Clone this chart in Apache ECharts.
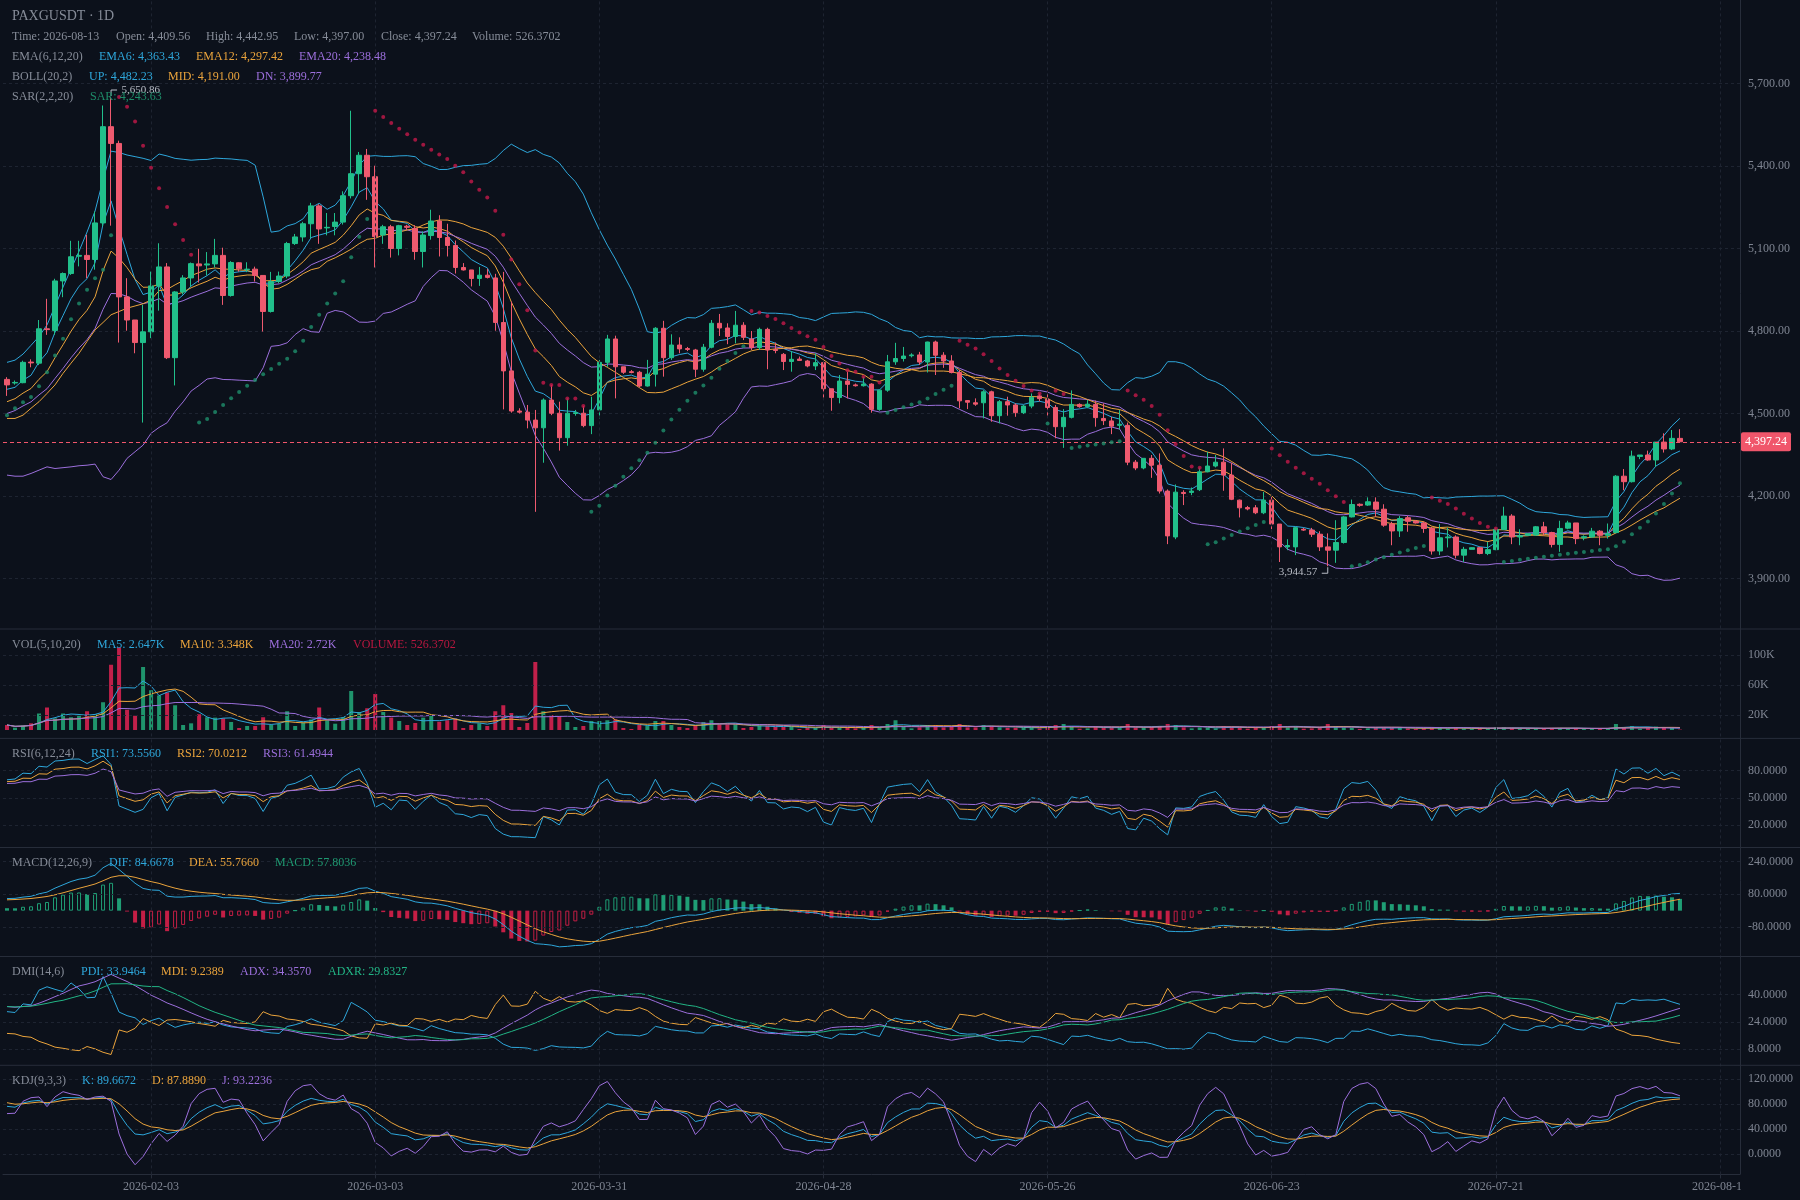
<!DOCTYPE html>
<html>
<head>
<meta charset="utf-8">
<title>PAXGUSDT 1D</title>
<script src="https://cdn.jsdelivr.net/npm/echarts@6.0.0/dist/echarts.min.js"></script>
<style>
html,body{margin:0;padding:0;background:#0c111b;}
#chart{width:1800px;height:1200px;}
</style>
</head>
<body>
<div id="chart"></div>
<script>
// ---------------- data ----------------
const startDay = '2026-01-16';
const futureSlots = 7;
const xLabelDates = ['2026-02-03','2026-03-03','2026-03-31','2026-04-28','2026-05-26','2026-06-23','2026-07-21','2026-08-18'];

const openPrices = [
4624,4611,4612,4687,4683,4808,4802,4982,5009,5072,
5075,5060,5193,5543,5482,4924,4840,4758,4797,4964,
5033,4703,4942,4993,5044,5040,5044,5075,4929,5048,
5023,5025,5002,4871,4980,5000,5118,5142,5190,5255,
5175,5180,5196,5292,5372,5439,5361,5149,5179,5100,
5181,5173,5089,5147,5200,5140,5111,5031,5022,4991,
5003,4993,4831,4655,4509,4505,4476,4448,4549,4501,
4412,4500,4501,4456,4513,4686,4771,4670,4652,4650,
4600,4643,4810,4703,4749,4736,4731,4661,4741,4828,
4811,4780,4821,4771,4740,4806,4733,4715,4689,4698,
4691,4673,4685,4590,4558,4618,4604,4601,4607,4515,
4585,4688,4700,4710,4713,4687,4760,4712,4691,4649,
4547,4539,4539,4579,4492,4543,4531,4503,4527,4564,
4552,4522,4452,4486,4533,4525,4533,4482,4473,4457,
4457,4323,4302,4337,4312,4218,4051,4213,4213,4223,
4288,4309,4323,4276,4185,4158,4157,4139,4185,4098,
4015,4015,4079,4076,4061,4015,4003,4031,4124,4170,
4167,4178,4152,4098,4073,4121,4108,4102,4082,4000,
4048,4051,3985,4006,4012,3991,4005,4078,4127,4051,
4057,4058,4088,4067,4024,4083,4102,4048,4051,4072,
4057,4067,4272,4252,4344,4349,4331,4396,4371,4409.56];

const highPrices = [
4632,4620,4692,4697,4840,4917,4990,5013,5128,5128,
5150,5235,5620,5650.86,5492,4992,4840,4895,5016,5119,
5047,4945,5003,5049,5099,5087,5135,5103,5054,5050,
5050,5034,5002,5015,5016,5124,5153,5197,5266,5261,
5229,5229,5308,5601,5451,5462,5401,5186,5186,5186,
5186,5185,5162,5241,5221,5190,5129,5047,5022,5033,
5026,5008,5015,4907,4519,4531,4513,4555,4604,4543,
4555,4513,4527,4561,4695,4786,4783,4670,4658,4655,
4695,4814,4837,4788,4777,4742,4735,4753,4840,4862,
4828,4873,4832,4800,4812,4812,4758,4720,4727,4707,
4695,4719,4689,4590,4640,4652,4609,4634,4610,4586,
4713,4757,4742,4719,4724,4761,4765,4723,4712,4658,
4549,4555,4585,4583,4549,4561,4537,4531,4573,4572,
4583,4531,4516,4584,4537,4549,4547,4537,4488,4513,
4467,4331,4337,4349,4355,4224,4242,4221,4231,4303,
4361,4349,4373,4321,4187,4164,4167,4215,4197,4098,
4043,4088,4084,4084,4072,4064,4112,4127,4187,4173,
4195,4195,4170,4106,4127,4128,4112,4107,4088,4098,
4085,4057,4015,4013,4015,4033,4082,4161,4134,4079,
4064,4091,4106,4070,4110,4110,4102,4057,4084,4076,
4100,4276,4298,4365,4349,4365,4396,4428,4440,4442.95];

const lowPrices = [
4564,4605,4610,4668,4676,4786,4786,4923,5004,5035,
4992,5023,5180,5183,4758,4801,4719,4467,4774,4874,
4698,4602,4933,4962,4976,5002,5031,4895,4925,5016,
5014,4980,4798,4867,4974,4992,5113,5125,5138,5117,
5148,5148,5187,5282,5299,5277,5031,5117,5067,5075,
5168,5059,5031,5132,5071,5071,5009,5020,4962,4964,
4991,4801,4515,4503,4500,4446,4142.5,4321,4494,4365,
4383,4492,4450,4425,4482,4670,4555,4644,4646,4595,
4598,4598,4634,4695,4719,4727,4632,4652,4737,4782,
4752,4755,4767,4731,4731,4661,4719,4658,4652,4692,
4668,4658,4553,4510,4537,4555,4598,4598,4503,4510,
4579,4677,4689,4704,4677,4649,4640,4666,4646,4519,
4516,4528,4482,4470,4464,4492,4488,4498,4519,4544,
4488,4410,4375,4482,4521,4519,4452,4458,4425,4442,
4312,4294,4297,4266,4209,4025,4043,4167,4203,4218,
4286,4304,4219,4185,4122,4148,4134,4134,4079,3960,
4003,3985,4073,4051,4000,3944.57,3957,4027,4122,4161,
4164,4124,4088,4021,4051,4070,4100,4066,3987,3985,
4013,3973,3960,4006,3988,3985,4003,4076,4025,4021,
4055,4055,4057,4013,3997,4079,4025,4039,4048,4021,
4045,4064,4221,4249,4334,4328,4306,4358,4367,4397.00];

const closePrices = [
4604,4613,4686,4684,4808,4805,4982,5009,5070,5075,
5060,5193,5543,5482,4924,4840,4758,4797,4964,5033,
4703,4942,4993,5045,5037,5044,5075,4929,5049,5026,
5025,5002,4871,4980,5000,5118,5142,5190,5255,5171,
5177,5196,5292,5372,5439,5361,5143,5179,5100,5183,
5177,5089,5149,5200,5140,5111,5031,5022,4991,5003,
4995,4831,4655,4509,4505,4476,4448,4549,4501,4412,
4501,4503,4456,4513,4686,4771,4670,4650,4649,4600,
4643,4810,4703,4749,4735,4733,4661,4741,4828,4811,
4780,4821,4777,4740,4806,4731,4729,4689,4697,4693,
4673,4685,4590,4558,4618,4606,4601,4607,4515,4585,
4688,4700,4709,4713,4687,4760,4712,4691,4649,4546,
4541,4534,4579,4492,4543,4531,4503,4527,4559,4554,
4522,4452,4486,4533,4525,4534,4485,4474,4454,4461,
4323,4302,4337,4312,4218,4055,4214,4209,4218,4288,
4309,4323,4276,4188,4157,4153,4139,4185,4098,4015,
4020,4085,4076,4061,4015,4003,4031,4124,4169,4166,
4179,4152,4094,4073,4118,4108,4102,4082,4000,4048,
4051,3985,4006,4012,3991,4005,4078,4127,4051,4055,
4063,4088,4067,4024,4082,4102,4045,4052,4072,4057,
4063,4272,4252,4345,4349,4331,4396,4371,4409.56,4397.24];

const volumes = [
6700,3100,5800,8900,22000,30000,15500,22000,17000,19000,
25000,21000,37000,87000,110000,27000,19000,84000,53000,46000,
50000,33000,6700,8900,21000,17000,16500,15500,10700,2700,
5300,5300,17000,6700,8000,25000,5300,9800,14000,30000,
13000,8400,17000,52000,24000,29000,48000,24000,16500,12000,
6700,9300,16500,18700,11000,13000,15500,2700,6700,8900,
5300,25000,33000,22700,4000,9300,90700,25000,20000,18700,
10700,4000,5300,12000,12000,13000,14000,2700,1300,6700,
5800,12000,12000,6700,4000,2700,6700,10700,13000,7500,
7500,7500,2700,4000,5800,5800,4000,4000,4000,1300,
2700,2700,6700,3100,2700,2700,2200,3500,6700,3000,
8000,13000,4400,2200,3500,6700,6700,3500,4400,8000,
3500,3500,6700,4400,3500,3100,3100,2700,3500,2200,
4400,6700,8000,4400,1800,2200,5300,2700,3500,2700,
8000,3500,3500,4000,5300,8000,6700,3500,2200,3500,
2700,2200,5300,4000,3500,1800,3100,3500,5300,8000,
3500,4000,1800,2200,3500,8000,5300,3500,3100,1500,
2200,3100,3500,2700,3100,2200,1500,2700,3500,3100,
1800,3100,2200,1300,1800,2200,3500,3500,2700,1800,
1500,2200,2200,2700,2700,1800,2700,1300,1800,2200,
2000,8000,3300,5300,1700,2500,4500,3000,2700,526.3702];

// Bollinger values of the first 19 days (their window reaches before the visible range)
const bollUpEarly  = [4686,4694,4716,4748,4780,4822,4890,4960,5025,5090,5160,5236,5350,5454,5449,5440,5434,5428,5420];
const bollMidEarly = [4482,4482,4494,4519,4543,4573,4604,4646,4683,4719,4762,4804,4831,4859,4871,4883,4891,4899,4913];
const bollDnEarly  = [4276,4272,4272,4282,4294,4306,4300,4303,4306,4310,4312,4316,4270,4260,4294,4337,4361,4385,4428];

// indicator values on the first visible day
const ema6Start = 4588, ema12Start = 4543, ema20Start = 4500, ema26Start = 4484, deaStart = 53;
const rsiStart = [70, 68, 66];
const kdjStart = [85, 85];
const dmiStart = [70, 21, 12, 33, 33]; // TR, +DM, -DM, ADX, ADXR
const sarStart = [4494, 4700, 0.12];   // SAR, EP, AF

// axis ticks
const priceTicks = [3900, 5700, 300];
const volTicks = [20000, 60000, 100000];
const rsiTicks = [20, 50, 80];
const macdTicks = [-80, 80, 240];
const dmiTicks = [8, 24, 40];
const kdjTicks = [0, 40, 80, 120];

// ---------------- derived ----------------
const N = closePrices.length;
const t0 = Date.parse(startDay + 'T00:00:00Z');
const dates = [];
for (let i = 0; i < N + futureSlots; i++) dates.push(new Date(t0 + i * 86400000).toISOString().slice(0, 10));

function ema(src, n, seed) {
  const a = 2 / (n + 1), out = [];
  let p = seed;
  for (let i = 0; i < src.length; i++) { if (i > 0) p = a * src[i] + (1 - a) * p; out.push(p); }
  return out;
}
const ema6 = ema(closePrices, 6, ema6Start);
const ema12 = ema(closePrices, 12, ema12Start);
const ema20 = ema(closePrices, 20, ema20Start);
const ema26 = ema(closePrices, 26, ema26Start);

const bollUp = [], bollMid = [], bollDn = [];
for (let i = 0; i < N; i++) {
  if (i < bollMidEarly.length) { bollUp.push(bollUpEarly[i]); bollMid.push(bollMidEarly[i]); bollDn.push(bollDnEarly[i]); continue; }
  const w = closePrices.slice(i - 19, i + 1);
  const m = w.reduce((s, v) => s + v, 0) / w.length;
  const sd = Math.sqrt(w.reduce((s, v) => s + (v - m) * (v - m), 0) / w.length);
  bollMid.push(m); bollUp.push(m + 2 * sd); bollDn.push(m - 2 * sd);
}

// SAR(2,2,20)
const sarVals = [], sarUpFlag = [];
{
  let up = true, s = sarStart[0], ep = sarStart[1], af = sarStart[2];
  sarVals.push(s); sarUpFlag.push(up);
  for (let i = 1; i < N; i++) {
    if (up) {
      if (lowPrices[i] < s) { up = false; s = ep; ep = lowPrices[i]; af = 0.04; }
      else {
        if (highPrices[i] > ep) { ep = highPrices[i]; af = Math.min(af + 0.02, 0.2); }
        s = s + af * (ep - s);
        s = Math.min(s, lowPrices[i], lowPrices[i - 1]);
      }
    } else {
      if (highPrices[i] > s) { up = true; s = ep; ep = highPrices[i]; af = 0.02; }
      else {
        if (lowPrices[i] < ep) { ep = lowPrices[i]; af = Math.min(af + 0.02, 0.2); }
        s = s + af * (ep - s);
        s = Math.max(s, highPrices[i], highPrices[i - 1]);
      }
    }
    sarVals.push(s); sarUpFlag.push(up);
  }
}

// volume MAs
function sma(src, n) {
  const out = [];
  for (let i = 0; i < src.length; i++) {
    const w = src.slice(Math.max(0, i - n + 1), i + 1);
    out.push(w.reduce((s, v) => s + v, 0) / w.length);
  }
  return out;
}
const volMa5 = sma(volumes, 5), volMa10 = sma(volumes, 10), volMa20 = sma(volumes, 20);

// RSI(6,12,24)
function rsi(n, seed) {
  const out = [seed];
  let a = 60, g = seed / 100 * 60;
  for (let i = 1; i < N; i++) {
    const d = closePrices[i] - closePrices[i - 1];
    g = (Math.max(d, 0) + (n - 1) * g) / n;
    a = (Math.abs(d) + (n - 1) * a) / n;
    out.push(a === 0 ? 50 : g / a * 100);
  }
  return out;
}
const rsi1 = rsi(6, rsiStart[0]), rsi2 = rsi(12, rsiStart[1]), rsi3 = rsi(24, rsiStart[2]);

// MACD(12,26,9)
const dif = ema12.map((v, i) => v - ema26[i]);
const dea = ema(dif, 9, deaStart);
const macdHist = dif.map((v, i) => 2 * (v - dea[i]));

// DMI(14,6)  (Wilder smoothing, ADXR over 6 bars)
const pdi = [], mdi = [], adx = [], adxr = [];
{
  let tr = dmiStart[0], dmp = dmiStart[1], dmm = dmiStart[2], ax = dmiStart[3];
  const a14 = 1 / 14;
  for (let i = 0; i < N; i++) {
    if (i > 0) {
      const h = highPrices[i], l = lowPrices[i], pc = closePrices[i - 1];
      const t = Math.max(h - l, Math.abs(h - pc), Math.abs(l - pc));
      const hd = h - highPrices[i - 1], ld = lowPrices[i - 1] - l;
      const p = (hd > 0 && hd > ld) ? hd : 0, m = (ld > 0 && ld > hd) ? ld : 0;
      tr = a14 * t + (1 - a14) * tr; dmp = a14 * p + (1 - a14) * dmp; dmm = a14 * m + (1 - a14) * dmm;
    }
    const P = dmp / tr * 100, M = dmm / tr * 100;
    if (i > 0) {
      const dx = Math.abs(M - P) / (M + P) * 100;
      ax = a14 * dx + (1 - a14) * ax;
    }
    pdi.push(P); mdi.push(M); adx.push(ax);
    adxr.push((ax + (i >= 6 ? adx[i - 6] : dmiStart[4])) / 2);
  }
}

// KDJ(9,3,3)
const kVals = [], dVals = [], jVals = [];
{
  let K = kdjStart[0], D = kdjStart[1];
  for (let i = 0; i < N; i++) {
    const s = Math.max(0, i - 8);
    const hh = Math.max(...highPrices.slice(s, i + 1)), ll = Math.min(...lowPrices.slice(s, i + 1));
    const rsv = hh === ll ? 50 : (closePrices[i] - ll) / (hh - ll) * 100;
    K = (2 * K + rsv) / 3; D = (2 * D + K) / 3;
    kVals.push(K); dVals.push(D); jVals.push(3 * K - 2 * D);
  }
}

// ---------------- styling ----------------
const bg = '#0c111b';
const gridColor = '#1e2431';
const sepColor = '#272d3a';
const axisText = '#7f8592';
const gray = '#868c98';
const cyan = '#2ea7db', orange = '#eba43c', purple = '#9c6fdc', green2 = '#22b585';
const upColor = '#21c08b', downColor = '#ef5a6f';
const volUp = '#1f946c', volDown = '#c1204a';
const macdUp = '#1f9e75', macdDown = '#c41e45';
const sarUpColor = '#1e8f6c', sarDownColor = '#c4194a';
const font = '"Liberation Serif", "Times New Roman", serif';
const fmt2 = v => v.toLocaleString('en-US', { minimumFractionDigits: 2, maximumFractionDigits: 2 });

const L = 3, R = 60;
const grids = [
  { left: L, right: R, top: 83.5, height: 495 },
  { left: L, right: R, top: 655, height: 75 },
  { left: L, right: R, top: 770.7, height: 54.6 },
  { left: L, right: R, top: 861.6, height: 65.4 },
  { left: L, right: R, top: 994.7, height: 54.2 },
  { left: L, right: R, top: 1079, height: 75 },
  { left: L, right: R, top: 0, height: 1174.4 }
];

const xAxes = [0, 1, 2, 3, 4, 5].map(g => ({ type: 'category', gridIndex: g, data: dates, show: false, boundaryGap: true }));
xAxes.push({
  type: 'category', gridIndex: 6, data: dates, boundaryGap: true,
  axisLine: { show: true, lineStyle: { color: sepColor } },
  axisTick: { show: true, alignWithLabel: true, length: 4, interval: (i, v) => xLabelDates.includes(v), lineStyle: { color: sepColor } },
  axisLabel: { show: true, interval: (i, v) => xLabelDates.includes(v), color: axisText, fontFamily: font, fontSize: 12, margin: 6 },
  splitLine: { show: false }
});

const labelBase = { color: axisText, fontFamily: font, fontSize: 12, margin: 8 };
function yAx(g, min, max, interval, fmt, split) {
  return {
    type: 'value', gridIndex: g, position: 'right', min, max, interval, scale: false,
    axisLine: { show: false }, axisTick: { show: false },
    axisLabel: Object.assign({ formatter: fmt }, labelBase),
    splitLine: { show: !!split, lineStyle: { color: gridColor, type: [3, 3], width: 1 } }
  };
}
const yAxes = [
  yAx(0, priceTicks[0], priceTicks[1], priceTicks[2], v => fmt2(v), true),
  yAx(1, 0, 100000, 20000, v => volTicks.includes(v) ? (v / 1000) + 'K' : '', false),
  yAx(2, 20, 80, 10, v => rsiTicks.includes(v) ? v.toFixed(4) : '', false),
  yAx(3, -80, 240, 80, v => macdTicks.includes(v) ? v.toFixed(4) : '', false),
  yAx(4, 8, 40, 8, v => dmiTicks.includes(v) ? v.toFixed(4) : '', false),
  yAx(5, 0, 120, 40, v => kdjTicks.includes(v) ? v.toFixed(4) : '', true),
  { type: 'value', gridIndex: 6, min: 0, max: 1, show: false }
];

function hLines(vals) {
  return { silent: true, symbol: ['none', 'none'], label: { show: false }, animation: false,
    lineStyle: { color: gridColor, type: [3, 3], width: 1 }, data: vals.map(v => ({ yAxis: v })) };
}
function lineS(data, color, g, extra) {
  return Object.assign({ type: 'line', data, xAxisIndex: g, yAxisIndex: g, showSymbol: false, symbol: 'none', clip: false,
    silent: true, z: 3, lineStyle: { color, width: 1 }, itemStyle: { color } }, extra || {});
}

const lastClose = closePrices[N - 1];
const maxHigh = Math.max(...highPrices), maxIdx = highPrices.indexOf(maxHigh);
const minLow = Math.min(...lowPrices), minIdx = lowPrices.indexOf(minLow);

const series = [];
// background vertical grid lines
series.push({ type: 'line', xAxisIndex: 6, yAxisIndex: 6, data: [[dates[0], 0.5]], symbol: 'none', silent: true, z: 0,
  lineStyle: { opacity: 0 },
  markLine: { silent: true, symbol: ['none', 'none'], label: { show: false }, animation: false,
    lineStyle: { color: gridColor, type: [3, 3], width: 1 }, data: xLabelDates.map(d => ({ xAxis: d })) } });

// candles
series.push({
  type: 'candlestick', xAxisIndex: 0, yAxisIndex: 0, barWidth: 5, clip: false, z: 4, silent: true,
  data: openPrices.map((o, i) => [o, closePrices[i], lowPrices[i], highPrices[i]]),
  itemStyle: { color: upColor, color0: downColor, borderColor: upColor, borderColor0: downColor, borderWidth: 1 },
  markLine: { silent: true, symbol: ['none', 'none'], animation: false, data: [{ yAxis: lastClose }],
    lineStyle: { color: '#f0566b', type: [4, 3], width: 1 },
    label: { show: true, position: 'end', distance: 1, formatter: () => fmt2(lastClose), color: '#ffffff',
      backgroundColor: '#f0566b', padding: [4, 4, 3, 4], borderRadius: 2, fontFamily: font, fontSize: 12 } },
  markPoint: { silent: true, animation: false, data: [
    { coord: [dates[maxIdx], maxHigh], symbol: 'path://M0 10 L0 0 L10 0', symbolSize: [6, 6], symbolOffset: [3, -4],
      itemStyle: { color: 'rgba(0,0,0,0)', borderColor: '#b9bdc6', borderWidth: 1 },
      label: { show: true, position: 'right', distance: 4, offset: [0, -3], formatter: fmt2(maxHigh), color: '#b9bdc6', fontSize: 11, fontFamily: font } },
    { coord: [dates[minIdx], minLow], symbol: 'path://M10 0 L10 10 L0 10', symbolSize: [6, 6], symbolOffset: [-3, 4],
      itemStyle: { color: 'rgba(0,0,0,0)', borderColor: '#b9bdc6', borderWidth: 1 },
      label: { show: true, position: 'left', distance: 4, offset: [0, 2], formatter: fmt2(minLow), color: '#b9bdc6', fontSize: 11, fontFamily: font } }
  ] }
});
series.push(lineS(ema6, cyan, 0));
series.push(lineS(ema12, orange, 0));
series.push(lineS(ema20, purple, 0));
series.push(lineS(bollUp, cyan, 0));
series.push(lineS(bollMid, orange, 0));
series.push(lineS(bollDn, purple, 0));
series.push({ type: 'scatter', xAxisIndex: 0, yAxisIndex: 0, symbolSize: 4, silent: true, z: 5, clip: false,
  data: sarVals.map((v, i) => sarUpFlag[i] ? v : '-'), itemStyle: { color: sarUpColor } });
series.push({ type: 'scatter', xAxisIndex: 0, yAxisIndex: 0, symbolSize: 4, silent: true, z: 5, clip: false,
  data: sarVals.map((v, i) => sarUpFlag[i] ? '-' : v), itemStyle: { color: sarDownColor } });

// volume
series.push({ type: 'bar', xAxisIndex: 1, yAxisIndex: 1, barWidth: 4, clip: false, silent: true, z: 2,
  data: volumes.map((v, i) => ({ value: v, itemStyle: { color: closePrices[i] >= openPrices[i] ? volUp : volDown } })),
  markLine: hLines(volTicks) });
series.push(lineS(volMa5, cyan, 1));
series.push(lineS(volMa10, orange, 1));
series.push(lineS(volMa20, purple, 1));

// RSI
series.push(lineS(rsi1, cyan, 2, { markLine: hLines(rsiTicks) }));
series.push(lineS(rsi2, orange, 2));
series.push(lineS(rsi3, purple, 2));

// MACD
series.push({ type: 'bar', xAxisIndex: 3, yAxisIndex: 3, barWidth: 4, clip: false, silent: true, z: 2,
  data: macdHist.map((v, i) => {
    const col = v >= 0 ? macdUp : macdDown;
    const hollow = i > 0 && v > macdHist[i - 1];
    return { value: v, itemStyle: hollow ? { color: bg, borderColor: col, borderWidth: 1 } : { color: col, borderColor: col, borderWidth: 0 } };
  }),
  markLine: hLines(macdTicks) });
series.push(lineS(dif, cyan, 3));
series.push(lineS(dea, orange, 3));

// DMI
series.push(lineS(pdi, cyan, 4, { markLine: hLines(dmiTicks) }));
series.push(lineS(mdi, orange, 4));
series.push(lineS(adx, purple, 4));
series.push(lineS(adxr, green2, 4));

// KDJ
series.push(lineS(kVals, cyan, 5));
series.push(lineS(dVals, orange, 5));
series.push(lineS(jVals, purple, 5));

// ---------------- header texts & frame ----------------
const graphics = [];
function addText(x, y, text, color, size) {
  graphics.push({ type: 'text', x, y, silent: true, z: 50,
    style: { text, fill: color, font: (size || 12) + 'px ' + font, verticalAlign: 'middle', textVerticalAlign: 'middle', align: 'left' } });
}
addText(12, 16, 'PAXGUSDT · 1D', gray, 14);
addText(12, 37, 'Time: 2026-08-13', gray); addText(116, 37, 'Open: 4,409.56', gray); addText(206, 37, 'High: 4,442.95', gray);
addText(294, 37, 'Low: 4,397.00', gray); addText(381, 37, 'Close: 4,397.24', gray); addText(472, 37, 'Volume: 526.3702', gray);
addText(12, 57, 'EMA(6,12,20)', gray); addText(99, 57, 'EMA6: 4,363.43', cyan); addText(196, 57, 'EMA12: 4,297.42', orange); addText(299, 57, 'EMA20: 4,238.48', purple);
addText(12, 77, 'BOLL(20,2)', gray); addText(89, 77, 'UP: 4,482.23', cyan); addText(168, 77, 'MID: 4,191.00', orange); addText(256, 77, 'DN: 3,899.77', purple);
addText(12, 97, 'SAR(2,2,20)', gray); addText(90, 97, 'SAR: 4,243.63', '#1e8c69');
addText(12, 645, 'VOL(5,10,20)', gray); addText(97, 645, 'MA5: 2.647K', cyan); addText(180, 645, 'MA10: 3.348K', orange);
addText(269, 645, 'MA20: 2.72K', purple); addText(353, 645, 'VOLUME: 526.3702', '#b8173f');
addText(12, 754, 'RSI(6,12,24)', gray); addText(91, 754, 'RSI1: 73.5560', cyan); addText(177, 754, 'RSI2: 70.0212', orange); addText(263, 754, 'RSI3: 61.4944', purple);
addText(12, 863, 'MACD(12,26,9)', gray); addText(109, 863, 'DIF: 84.6678', cyan); addText(189, 863, 'DEA: 55.7660', orange); addText(275, 863, 'MACD: 57.8036', '#1f9a72');
addText(12, 972, 'DMI(14,6)', gray); addText(81, 972, 'PDI: 33.9464', cyan); addText(161, 972, 'MDI: 9.2389', orange);
addText(240, 972, 'ADX: 34.3570', purple); addText(328, 972, 'ADXR: 29.8327', green2);
addText(12, 1081, 'KDJ(9,3,3)', gray); addText(82, 1081, 'K: 89.6672', cyan); addText(152, 1081, 'D: 87.8890', orange); addText(222, 1081, 'J: 93.2236', purple);

[629, 738.4, 847.5, 956.5, 1065.3].forEach(y => graphics.push({ type: 'line', silent: true, z: 40,
  shape: { x1: 0, y1: y, x2: 1800, y2: y }, style: { stroke: sepColor, lineWidth: 1 } }));
graphics.push({ type: 'line', silent: true, z: 40, shape: { x1: 1740.5, y1: 0, x2: 1740.5, y2: 1174.4 }, style: { stroke: sepColor, lineWidth: 1 } });
graphics.push({ type: 'rect', silent: true, z: 100, shape: { x: 1741, y: 1176, width: 59, height: 24 }, style: { fill: bg } });

const chart = echarts.init(document.getElementById('chart'), null, { renderer: 'canvas', width: 1800, height: 1200 });
chart.setOption({
  backgroundColor: bg,
  animation: false,
  textStyle: { fontFamily: font },
  grid: grids,
  xAxis: xAxes,
  yAxis: yAxes,
  series,
  graphic: { elements: graphics }
});
</script>
</body>
</html>
